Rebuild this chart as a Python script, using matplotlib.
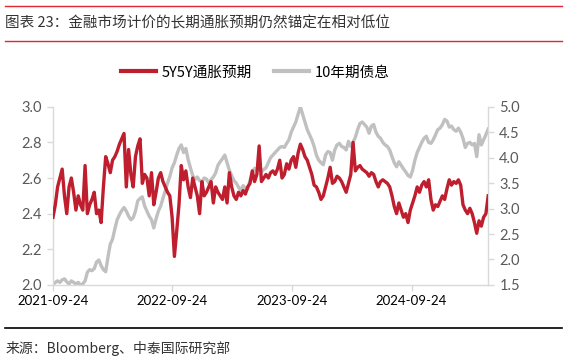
import numpy as np
import pandas as pd
import matplotlib
matplotlib.use("Agg")
import matplotlib.pyplot as plt
import matplotlib.dates as mdates
from matplotlib.lines import Line2D

plt.rcParams['font.family'] = ['Noto Sans CJK SC', 'DejaVu Sans']

# weekly readings, starting 2021-09-24
start_date = "2021-09-24"
breakeven_5y5y = [
    2.38, 2.45, 2.55, 2.60, 2.65, 2.50, 2.40, 2.55, 2.60, 2.52,
    2.42, 2.50, 2.45, 2.42, 2.67, 2.40, 2.45, 2.48, 2.52, 2.40,
    2.42, 2.35, 2.55, 2.72, 2.68, 2.63, 2.70, 2.72, 2.75, 2.79,
    2.82, 2.85, 2.55, 2.76, 2.62, 2.55, 2.72, 2.78, 2.82, 2.57,
    2.62, 2.60, 2.50, 2.63, 2.45, 2.52, 2.60, 2.63, 2.58, 2.55,
    2.52, 2.50, 2.38, 2.16, 2.30, 2.45, 2.67, 2.59, 2.64, 2.55,
    2.49, 2.60, 2.55, 2.50, 2.40, 2.58, 2.50, 2.52, 2.55, 2.58,
    2.46, 2.55, 2.52, 2.50, 2.48, 2.55, 2.46, 2.63, 2.55, 2.50,
    2.48, 2.52, 2.50, 2.53, 2.51, 2.55, 2.57, 2.64, 2.58, 2.62,
    2.78, 2.58, 2.60, 2.62, 2.60, 2.63, 2.64, 2.62, 2.65, 2.70,
    2.60, 2.62, 2.68, 2.65, 2.70, 2.72, 2.66, 2.74, 2.79, 2.76,
    2.72, 2.70, 2.66, 2.62, 2.56, 2.55, 2.52, 2.48, 2.50, 2.55,
    2.60, 2.66, 2.57, 2.58, 2.61, 2.60, 2.58, 2.55, 2.52, 2.57,
    2.62, 2.80, 2.64, 2.66, 2.67, 2.65, 2.64, 2.63, 2.61, 2.63,
    2.62, 2.58, 2.55, 2.58, 2.59, 2.58, 2.57, 2.55, 2.50, 2.44,
    2.40, 2.46, 2.42, 2.38, 2.40, 2.35, 2.42, 2.46, 2.50, 2.55,
    2.52, 2.56, 2.58, 2.55, 2.59, 2.48, 2.42, 2.45, 2.44, 2.47,
    2.50, 2.48, 2.54, 2.59, 2.56, 2.58, 2.57, 2.59, 2.56, 2.45,
    2.42, 2.40, 2.43, 2.40, 2.35, 2.29, 2.36, 2.33, 2.38, 2.40,
    2.50,
]
yield_10y = [
    1.50, 1.55, 1.58, 1.55, 1.60, 1.62, 1.56, 1.52, 1.58, 1.55,
    1.52, 1.55, 1.50, 1.52, 1.58, 1.75, 1.80, 1.78, 1.82, 1.95,
    1.99, 1.88, 1.80, 1.76, 2.05, 2.30, 2.40, 2.60, 2.78, 2.88,
    2.96, 3.02, 2.95, 2.85, 2.78, 2.82, 2.95, 3.15, 3.20, 3.23,
    3.05, 2.95, 2.85, 2.78, 2.62, 2.80, 2.95, 3.05, 3.20, 3.35,
    3.50, 3.63, 3.80, 3.90, 4.05, 4.18, 4.25, 4.10, 4.18, 3.96,
    3.80, 3.65, 3.57, 3.62, 3.55, 3.52, 3.60, 3.58, 3.50, 3.57,
    3.62, 3.70, 3.85, 3.92, 3.98, 4.05, 3.90, 3.75, 3.65, 3.55,
    3.50, 3.42, 3.36, 3.45, 3.40, 3.38, 3.55, 3.70, 3.79, 3.75,
    3.78, 3.72, 3.77, 3.80, 3.90, 4.00, 4.05, 4.10, 4.15, 4.20,
    4.22, 4.20, 4.28, 4.35, 4.50, 4.60, 4.70, 4.85, 5.00, 4.85,
    4.70, 4.55, 4.45, 4.35, 4.22, 4.05, 3.95, 3.90, 3.86, 4.05,
    4.12, 4.10, 3.95, 4.15, 4.25, 4.28, 4.22, 4.20, 4.15, 4.32,
    4.22, 4.30, 4.40, 4.55, 4.67, 4.70, 4.65, 4.60, 4.48, 4.62,
    4.65, 4.50, 4.42, 4.38, 4.30, 4.25, 4.22, 4.15, 4.02, 3.90,
    3.82, 3.92, 3.85, 3.78, 3.72, 3.65, 3.62, 3.75, 3.95, 4.10,
    4.20, 4.30, 4.38, 4.42, 4.30, 4.28, 4.35, 4.45, 4.55, 4.58,
    4.65, 4.75, 4.72, 4.60, 4.62, 4.55, 4.52, 4.58, 4.50, 4.38,
    4.20, 4.28, 4.30, 4.25, 4.28, 4.02, 4.45, 4.25, 4.35, 4.45,
    4.56,
]
tick_dates = ["2021-09-24", "2022-09-24", "2023-09-24", "2024-09-24"]
left_ticks = [2.0, 2.2, 2.4, 2.6, 2.8, 3.0]
right_ticks = [1.5, 2.0, 2.5, 3.0, 3.5, 4.0, 4.5, 5.0]

dates = pd.date_range(start_date, periods=len(breakeven_5y5y), freq="7D")

RED = "#BE1E2D"
GRAY = "#C0C0C0"
AXC = "#D9D9D9"
HDR = "#E0262E"

fig = plt.figure(figsize=(5.67, 3.63), dpi=100)
ax = fig.add_axes([0.0935, 0.215, 0.7675, 0.491])
ax2 = ax.twinx()

ax.plot(dates, breakeven_5y5y, color=RED, lw=2.4, zorder=3)
ax2.plot(dates, yield_10y, color=GRAY, lw=2.4, zorder=2)
ax.set_zorder(ax2.get_zorder() + 1)
ax.patch.set_visible(False)

ax.set_xlim(dates[0], dates[-1])
ax.set_ylim(2.0, 3.0)
ax2.set_ylim(1.5, 5.0)
ax.set_yticks(left_ticks)
ax.set_yticklabels([f"{v:.1f}" for v in left_ticks])
ax2.set_yticks(right_ticks)
ax2.set_yticklabels([f"{v:.1f}" for v in right_ticks])
ax.set_xticks(pd.to_datetime(tick_dates))
ax.set_xticklabels(tick_dates)

for a in (ax, ax2):
    for s in a.spines.values():
        s.set_visible(False)
ax.spines['left'].set_visible(True)
ax.spines['bottom'].set_visible(True)
ax2.spines['right'].set_visible(True)
for s in (ax.spines['left'], ax.spines['bottom'], ax2.spines['right']):
    s.set_color(AXC)
    s.set_linewidth(1.0)

ax.tick_params(axis='y', colors=AXC, labelcolor="#595959", labelsize=10.5,
               length=4, width=1, pad=4)
ax2.tick_params(axis='y', colors=AXC, labelcolor="#595959", labelsize=10.5,
                length=4, width=1, pad=4)
ax.tick_params(axis='x', colors=AXC, labelcolor="black", labelsize=9.5,
               length=4, width=1, pad=3)
for lab in ax.get_yticklabels() + ax2.get_yticklabels() + ax.get_xticklabels():
    lab.set_family(['Lato', 'DejaVu Sans'])

# legend
handles = [Line2D([], [], color=RED, lw=3), Line2D([], [], color=GRAY, lw=3)]
fig.legend(handles, ["5Y5Y通胀预期", "10年期债息"], loc="center",
           bbox_to_anchor=(0.45, 0.80), ncol=2, frameon=False, fontsize=10.5,
           handlelength=2.4, handletextpad=0.4, columnspacing=1.5)

# header and footer
fig.add_artist(Line2D([0.009, 0.991], [1 - 6 / 363, 1 - 6 / 363], color=HDR, lw=1.0))
fig.add_artist(Line2D([0.009, 0.991], [1 - 41 / 363, 1 - 41 / 363], color=HDR, lw=1.0))
fig.text(0.009, 1 - 23 / 363, "图表 23：金融市场计价的长期通胀预期仍然锚定在相对低位",
         fontsize=10.5, va="center", ha="left", color="#333333")
fig.add_artist(Line2D([0.009, 0.991], [1 - 328 / 363, 1 - 328 / 363], color="black", lw=1.2))
fig.text(0.009, 1 - 349 / 363, "来源：Bloomberg、中泰国际研究部",
         fontsize=10, va="center", ha="left", color="#333333")

fig.savefig("out.png", dpi=100)
